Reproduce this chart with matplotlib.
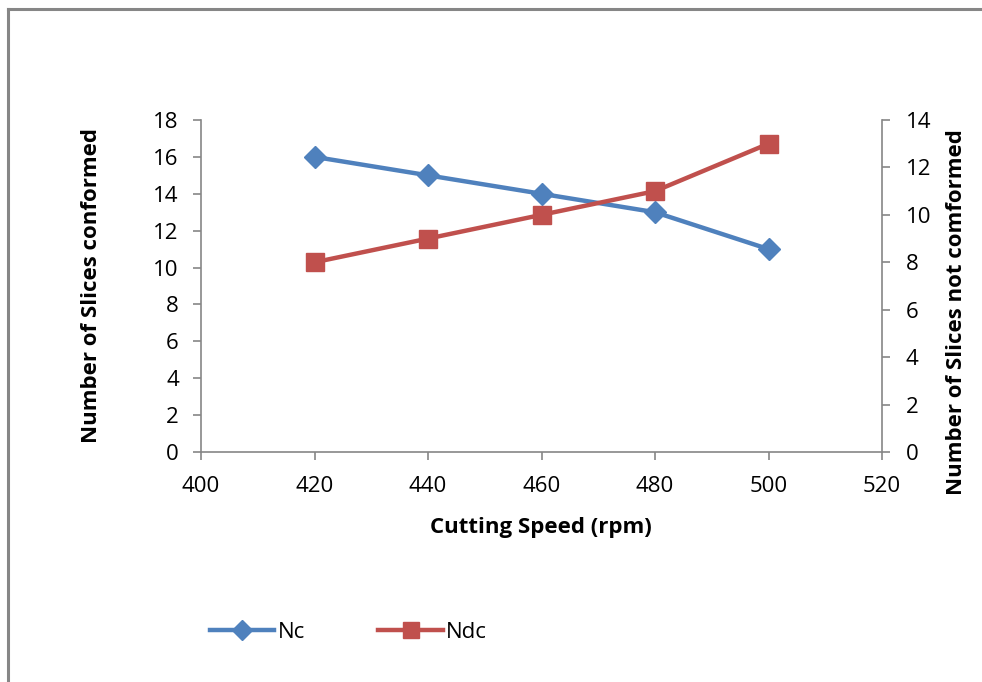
#!/usr/bin/env python3
"""Cutting speed vs conformed / not conformed slices (dual y-axis)."""
import matplotlib
matplotlib.use('Agg')
import matplotlib.pyplot as plt
from matplotlib.lines import Line2D

speed = [420, 440, 460, 480, 500]
nc = [16, 15, 14, 13, 11]
ndc = [8, 9, 10, 11, 13]

x_ticks = [400, 420, 440, 460, 480, 500, 520]
left_ticks = [0, 2, 4, 6, 8, 10, 12, 14, 16, 18]
right_ticks = [0, 2, 4, 6, 8, 10, 12, 14]

BLUE = '#4F81BD'
RED = '#C0504D'
GRAY = '#868686'

plt.rcParams['font.family'] = ['Open Sans', 'DejaVu Sans']

W, H = 982, 682
fig = plt.figure(figsize=(W / 100, H / 100), dpi=100)

# outer chart frame (only top/left visible in the crop)
fig.add_artist(Line2D([8 / W, 8 / W], [0, 1 - 9 / H], color=GRAY, lw=2.2))
fig.add_artist(Line2D([8 / W, 1], [1 - 9 / H, 1 - 9 / H], color=GRAY, lw=2.2))

ax = fig.add_axes([201 / W, 1 - 452 / H, (882 - 201) / W, (452 - 120) / H])
ax2 = ax.twinx()

ax.plot(speed, nc, color=BLUE, lw=3.2, marker='D', markersize=11,
        label='Nc', zorder=3)
ax2.plot(speed, ndc, color=RED, lw=3.2, marker='s', markersize=13,
         label='Ndc', zorder=3)

ax.set_xlim(400, 520)
ax.set_ylim(0, 18)
ax2.set_ylim(0, 14)
ax.set_xticks(x_ticks)
ax.set_yticks(left_ticks)
ax2.set_yticks(right_ticks)

for a in (ax, ax2):
    for s in a.spines.values():
        s.set_visible(False)
    a.tick_params(direction='out', length=6, width=1.2, color=GRAY,
                  labelsize=16)
ax.spines['left'].set_visible(True)
ax.spines['bottom'].set_visible(True)
ax2.spines['right'].set_visible(True)
for s in (ax.spines['left'], ax.spines['bottom'], ax2.spines['right']):
    s.set_color(GRAY)
    s.set_linewidth(1.2)
ax.tick_params(axis='y', pad=10)
ax2.tick_params(axis='y', pad=11)
ax.tick_params(axis='x', pad=11)

fig.text(541 / W, 1 - 528 / H, 'Cutting Speed (rpm)', ha='center',
         va='center', fontsize=16, fontweight='bold')
fig.text(92 / W, 1 - 285 / H, 'Number of Slices conformed', ha='center',
         va='center', rotation=90, fontsize=16, fontweight='bold')
fig.text(956 / W, 1 - 312 / H, 'Number of Slices not comformed',
         ha='center', va='center', rotation=90, fontsize=16,
         fontweight='bold')

handles = [ax.get_lines()[0], ax2.get_lines()[0]]
fig.legend(handles, ['Nc', 'Ndc'], loc='center left',
           bbox_to_anchor=(190 / W, 1 - 632 / H), ncol=2, frameon=False,
           fontsize=16, handlelength=2.9, handletextpad=0.15,
           columnspacing=3.3, markerscale=0.9)

fig.savefig('out.png', dpi=100)
